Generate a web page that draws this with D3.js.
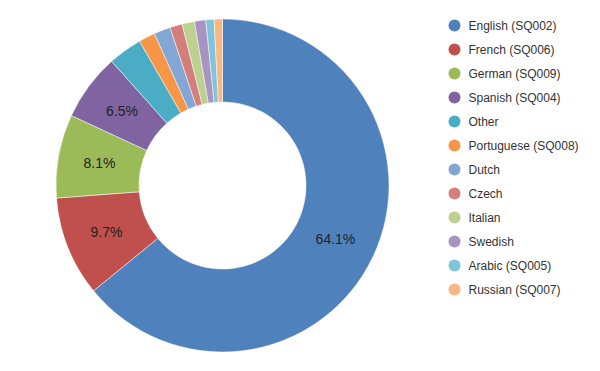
<!DOCTYPE html>
<html>
<head>
<meta charset="utf-8">
<script src="https://cdn.jsdelivr.net/npm/d3@7"></script>
<style>
  body { margin: 0; background: #fff; }
  text { font-family: "Liberation Sans", Arial, sans-serif; }
</style>
</head>
<body>
<div id="container"></div>
<script>
const languages = [
  "English (SQ002)", "French (SQ006)", "German (SQ009)", "Spanish (SQ004)",
  "Other", "Portuguese (SQ008)", "Dutch", "Czech", "Italian", "Swedish",
  "Arabic (SQ005)", "Russian (SQ007)"
];
const shares = [64.1, 9.7, 8.1, 6.5, 3.3, 1.6, 1.6, 1.2, 1.2, 1.1, 0.8, 0.8];
const colors = [
  "#4f81bd", "#c0504d", "#9bbb59", "#8064a2", "#4bacc6", "#f79646",
  "#84a6d4", "#d3807c", "#bcd18f", "#a794c2", "#7fc4d8", "#f9b782"
];

const w = 600;
const h = 371;
const cx = 222.5;
const cy = 185.5;
const outerR = 166.5;
const innerR = 83.5;

const svg = d3
  .select("#container")
  .append("svg")
  .attr("width", w)
  .attr("height", h)
  .attr("viewBox", `0 0 ${w} ${h}`);

const data = languages.map((name, i) => ({ name, value: shares[i] }));

const color = d3.scaleOrdinal().domain(languages).range(colors);

const pie = d3.pie().sort(null).value((d) => d.value);
const arc = d3.arc().innerRadius(innerR).outerRadius(outerR);

const chart = svg.append("g").attr("transform", `translate(${cx}, ${cy})`);

const slices = chart
  .selectAll("g.slice")
  .data(pie(data))
  .enter()
  .append("g")
  .attr("class", "slice");

slices
  .append("path")
  .attr("d", arc)
  .attr("fill", (d) => color(d.data.name))
  .attr("stroke", "#fff")
  .attr("stroke-width", 0.5);

// only the bigger slices get a percentage label
slices
  .filter((d) => d.data.value >= 5)
  .append("text")
  .attr("transform", (d) => `translate(${arc.centroid(d)})`)
  .attr("text-anchor", "middle")
  .attr("dy", "0.35em")
  .attr("font-size", 14)
  .attr("fill", "#222")
  .text((d) => d.data.value.toFixed(1) + "%");

const legendX = 454.5;
const legendY = 25.5;
const legendStep = 24;

const legend = svg
  .append("g")
  .selectAll("g")
  .data(languages)
  .enter()
  .append("g")
  .attr("transform", (d, i) => `translate(${legendX}, ${legendY + i * legendStep})`);

legend
  .append("circle")
  .attr("r", 6)
  .attr("fill", (d) => color(d));

legend
  .append("text")
  .attr("x", 14)
  .attr("dy", "0.35em")
  .attr("font-size", 12)
  .attr("fill", "#333")
  .text((d) => d);
</script>
</body>
</html>
